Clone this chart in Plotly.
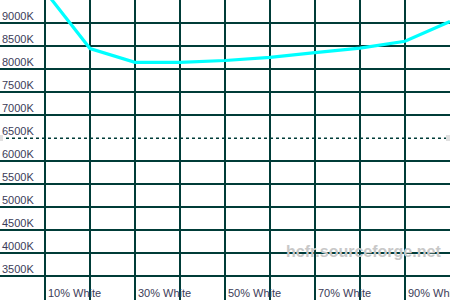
import plotly.graph_objects as go

# Data
levels = [10, 20, 30, 40, 50, 60, 70, 80, 90, 100]
colour_temp = [9700, 8450, 8150, 8150, 8190, 8260, 8360, 8460, 8610, 9040]
y_ticks = [9000, 8500, 8000, 7500, 7000, 6500, 6000, 5500, 5000, 4500, 4000, 3500]
y_tick_labels = ["9000K", "8500K", "8000K", "7500K", "7000K", "6500K", "6000K",
                 "5500K", "5000K", "4500K", "4000K", "3500K"]
x_label_pos = [10, 30, 50, 70, 90]
x_labels = ["10% White", "30% White", "50% White", "70% White", "90% White"]
reference_temp = 6500

GRID = "#003c38"
TXT = "#3c3c58"
Y_MIN, Y_MAX = 2978, 9507

fig = go.Figure()
fig.add_trace(go.Scatter(x=levels, y=colour_temp, mode="lines",
                         line=dict(color="#00ffff", width=3.2), hoverinfo="skip"))

annotations = []
for v, t in zip(y_ticks, y_tick_labels):
    annotations.append(dict(x=0, xref="paper", y=v, yref="y", text=t, showarrow=False,
                            xanchor="left", yanchor="bottom", xshift=1, borderpad=0,
                            font=dict(family="Liberation Sans, Arial", size=11, color=TXT)))
for x, t in zip(x_label_pos, x_labels):
    annotations.append(dict(x=x, xref="x", y=0.025, yref="paper", text=t, showarrow=False,
                            xanchor="left", yanchor="middle", xshift=2, borderpad=0,
                            font=dict(family="Liberation Sans, Arial", size=11, color=TXT)))
annotations.append(dict(x=0.807, y=0.163, xref="paper", yref="paper",
                        xanchor="center", yanchor="middle",
                        text="<b>hcfr.sourceforge.net</b>", showarrow=False,
                        font=dict(family="Liberation Sans, Arial", size=16, color="#c8c8c8")))

shapes = [dict(type="line", xref="paper", x0=0, x1=1, yref="y", y0=reference_temp, y1=reference_temp,
               line=dict(color=GRID, width=1.5, dash="3px,3px"), layer="below"),
          dict(type="rect", xref="paper", x0=0, x1=3/450, yref="paper", y0=(300-141)/300, y1=(300-135)/300,
               fillcolor="#e0e0e0", line=dict(width=0), layer="above"),
          dict(type="rect", xref="paper", x0=446/450, x1=1, yref="paper", y0=(300-141)/300, y1=(300-135)/300,
               fillcolor="#e0e0e0", line=dict(width=0), layer="above")]

grid_y = [v for v in y_ticks if v != reference_temp]

fig.update_layout(
    width=450, height=300, margin=dict(l=0, r=0, t=0, b=0),
    paper_bgcolor="white", plot_bgcolor="white", showlegend=False,
    annotations=annotations, shapes=shapes,
    xaxis=dict(range=[0, 100], tickvals=list(range(0, 101, 10)), showticklabels=False,
               showgrid=True, gridcolor=GRID, gridwidth=1.5, zeroline=False, fixedrange=True),
    yaxis=dict(range=[Y_MIN, Y_MAX], tickvals=grid_y, showticklabels=False,
               showgrid=True, gridcolor=GRID, gridwidth=1.5, zeroline=False, fixedrange=True),
)
fig.write_html("out.html", config={"displayModeBar": False})
